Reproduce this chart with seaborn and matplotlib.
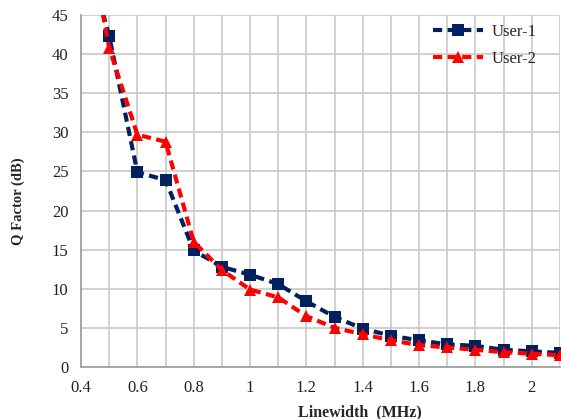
import matplotlib
matplotlib.use("Agg")
import matplotlib.pyplot as plt
import seaborn as sns
import pandas as pd

linewidth_mhz = [0.4, 0.5, 0.6, 0.7, 0.8, 0.9, 1.0, 1.1, 1.2, 1.3, 1.4, 1.5, 1.6, 1.7, 1.8, 1.9, 2.0, 2.1]
user1 = [55.5, 42.3, 24.9, 23.9, 14.9, 12.8, 11.8, 10.6, 8.4, 6.4, 4.9, 4.0, 3.4, 2.9, 2.7, 2.2, 2.0, 1.8]
user2 = [60.0, 40.8, 29.7, 28.8, 16.0, 12.4, 9.9, 8.9, 6.5, 5.0, 4.2, 3.4, 2.8, 2.5, 2.2, 1.9, 1.7, 1.5]
series_names = ["User-1", "User-2"]
x_ticks = [0.4, 0.6, 0.8, 1.0, 1.2, 1.4, 1.6, 1.8, 2.0]
x_tick_labels = ["0.4", "0.6", "0.8", "1", "1.2", "1.4", "1.6", "1.8", "2"]
y_ticks = [0, 5, 10, 15, 20, 25, 30, 35, 40, 45]

df = pd.DataFrame({
    "x": linewidth_mhz * 2,
    "y": user1 + user2,
    "series": [series_names[0]] * len(linewidth_mhz) + [series_names[1]] * len(linewidth_mhz),
})

sns.set_style("white")
plt.rcParams["font.family"] = ["Liberation Serif", "DejaVu Serif"]

fig = plt.figure(figsize=(5.61, 4.19), dpi=100)
ax = fig.add_axes([81 / 561, 1 - 367 / 419, (560 - 81) / 561, (367 - 15) / 419])

palette = {"User-1": "#002060", "User-2": "#FF0000"}
markers = {"User-1": "s", "User-2": "^"}
sns.lineplot(data=df, x="x", y="y", hue="series", style="series", palette=palette,
             markers=markers, dashes={"User-1": (2.2, 1.3), "User-2": (2.2, 1.3)},
             linewidth=3, markersize=9, markeredgewidth=0, ax=ax)

ax.set_xlim(0.4, 2.1)
ax.set_ylim(0, 45)
ax.set_xticks(x_ticks)
ax.set_xticklabels(x_tick_labels)
ax.set_yticks(y_ticks)
ax.xaxis.set_minor_locator(matplotlib.ticker.MultipleLocator(0.1))
ax.grid(True, which="both", color="#c8c8c8", linewidth=1.2)
for s in ["top", "right"]:
    ax.spines[s].set_visible(False)
for s in ["left", "bottom"]:
    ax.spines[s].set_color("#9a9a9a")
    ax.spines[s].set_linewidth(1.2)
ax.tick_params(axis="both", which="both", labelsize=12, labelcolor="#222222", color="#9a9a9a",
               length=5, width=1.2, direction="out", pad=4)
ax.tick_params(axis="x", which="minor", length=5)
ax.set_xlabel("Linewidth  (MHz)", fontsize=11.5, fontweight="bold")
ax.xaxis.set_label_coords((360 - 81) / (560 - 81), -(412 - 367) / (367 - 15), transform=ax.transAxes)
ax.xaxis.label.set_va("center")
ax.set_ylabel("Q Factor (dB)", fontsize=10.5, fontweight="bold")
ax.yaxis.set_label_coords(-(81 - 18) / (560 - 81), (367 - 201) / (367 - 15), transform=ax.transAxes)
ax.yaxis.label.set_va("center")

leg = ax.legend(loc="upper right", bbox_to_anchor=((543 - 81) / (560 - 81), (367 - 17) / (367 - 15)),
                frameon=False, fontsize=12, handlelength=3.0, handletextpad=0.5,
                labelspacing=0.7, borderaxespad=0.0)
for t in leg.get_texts():
    t.set_color("#222222")

fig.savefig("out.png", dpi=100)
